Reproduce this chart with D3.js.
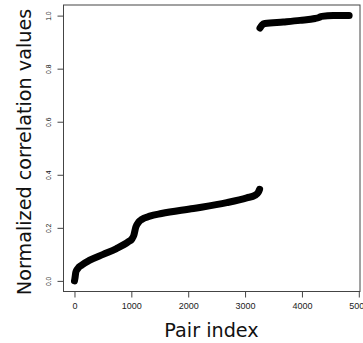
<!DOCTYPE html>
<html>
<head>
<meta charset="utf-8">
<script src="https://cdn.jsdelivr.net/npm/d3@7"></script>
<style>
  html, body { margin: 0; padding: 0; background: #fff; }
  svg { display: block; }
</style>
</head>
<body>
<svg id="chart" width="363" height="343"></svg>
<script>
// Sorted normalized correlation values along the pair index (two regimes)
const lowIndex  = [0, 7, 25, 60, 124, 270, 505, 740, 944, 1010, 1044, 1079, 1130, 1178, 1325, 1530, 2092, 2678, 3030, 3176, 3230, 3255];
const lowValue  = [0.0, 0.008, 0.034, 0.047, 0.059, 0.078, 0.100, 0.122, 0.147, 0.158, 0.172, 0.203, 0.222, 0.231, 0.244, 0.254, 0.273, 0.295, 0.313, 0.323, 0.333, 0.345];
const highIndex = [3262, 3300, 3348, 3673, 3966, 4230, 4300, 4348, 4552, 4830];
const highValue = [0.953, 0.965, 0.970, 0.976, 0.982, 0.989, 0.993, 0.997, 1.0, 1.0];

const xTicks = [0, 1000, 2000, 3000, 4000, 5000];
const yTicks = [0.0, 0.2, 0.4, 0.6, 0.8, 1.0];

const svg = d3.select("#chart");
const plot = { left: 63.5, right: 360, top: 5, bottom: 291.5 };

const x = d3.scaleLinear().domain([-193, 5021]).range([plot.left, plot.right]);
const y = d3.scaleLinear().domain([-0.04, 1.04]).range([plot.bottom, plot.top]);

const line = d3.line()
  .x(d => x(d[0]))
  .y(d => y(d[1]))
  .curve(d3.curveMonotoneX);

const segments = [
  d3.zip(lowIndex, lowValue),
  d3.zip(highIndex, highValue)
];

svg.append("g")
  .selectAll("path")
  .data(segments)
  .join("path")
  .attr("d", line)
  .attr("fill", "none")
  .attr("stroke", "#000")
  .attr("stroke-width", 7)
  .attr("stroke-linecap", "round")
  .attr("stroke-linejoin", "round");

// Plot frame
svg.append("rect")
  .attr("x", plot.left)
  .attr("y", plot.top)
  .attr("width", plot.right - plot.left)
  .attr("height", plot.bottom - plot.top)
  .attr("fill", "none")
  .attr("stroke", "#444")
  .attr("stroke-width", 1);

// X axis
const xAxis = svg.append("g")
  .attr("transform", `translate(0,${plot.bottom})`)
  .call(d3.axisBottom(x).tickValues(xTicks).tickFormat(d3.format("d")).tickSize(6).tickPadding(5));
xAxis.select(".domain")
  .attr("d", `M${x(0)},0H${x(5000)}`)
  .attr("stroke", "#444");
xAxis.selectAll(".tick line").attr("stroke", "#444");
xAxis.selectAll(".tick text")
  .attr("font-family", "'Liberation Sans', Arial, sans-serif")
  .attr("font-size", 9)
  .attr("fill", "#222");

// Y axis
const yAxis = svg.append("g")
  .attr("transform", `translate(${plot.left},0)`)
  .call(d3.axisLeft(y).tickValues(yTicks).tickFormat(d3.format(".1f")).tickSize(6).tickPadding(0));
yAxis.select(".domain")
  .attr("d", `M0,${y(0)}V${y(1)}`)
  .attr("stroke", "#444");
yAxis.selectAll(".tick line").attr("stroke", "#444");
yAxis.selectAll(".tick text")
  .attr("font-family", "'Liberation Sans', Arial, sans-serif")
  .attr("font-size", 6.8)
  .attr("fill", "#111")
  .attr("text-anchor", "middle")
  .attr("dy", 0)
  .attr("x", 0)
  .attr("transform", "translate(-13,0) rotate(-90)");

// Axis titles
svg.append("text")
  .attr("x", 211.5)
  .attr("y", 337)
  .attr("text-anchor", "middle")
  .attr("font-family", "'DejaVu Sans', sans-serif")
  .attr("font-size", 19.2)
  .attr("fill", "#111")
  .text("Pair index");

svg.append("text")
  .attr("transform", `translate(31,152) rotate(-90)`)
  .attr("text-anchor", "middle")
  .attr("font-family", "'DejaVu Sans', sans-serif")
  .attr("font-size", 19.2)
  .attr("fill", "#111")
  .text("Normalized correlation values");
</script>
</body>
</html>
